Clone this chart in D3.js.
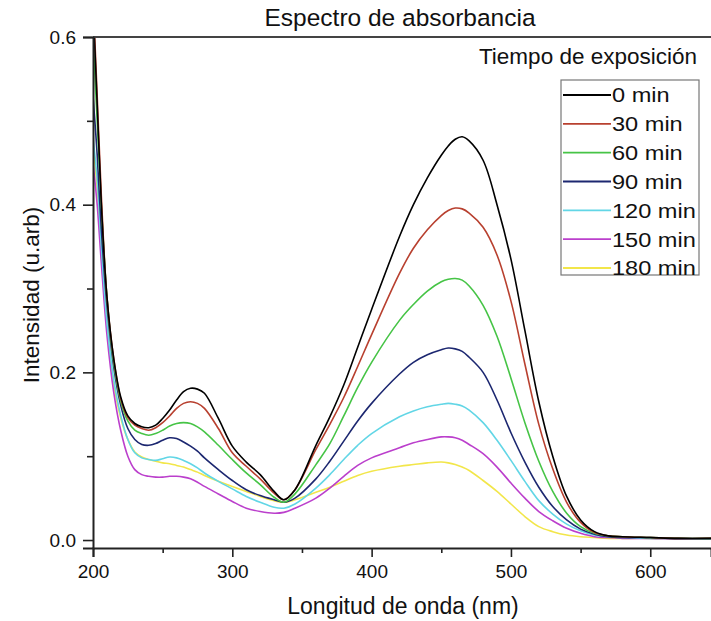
<html>
<head>
  <title>Espectro de absorbancia</title>
  <script src="https://d3js.org/d3.v7.min.js"></script>
  <style>
    body { margin: 0; background: #fff; }
    text { font-family: "Liberation Sans", Arial, sans-serif; fill: #111; }
  </style>
</head>
<body>
<svg id="chart" width="711" height="621"></svg>
<script>
  // wavelength grid (nm)
  const wl = [200,203,206,210,215,220,225,230,235,240,245,250,255,260,265,270,275,280,290,300,310,320,330,337,345,360,370,380,390,400,420,430,440,450,455,460,465,470,480,490,500,510,520,530,540,550,560,570,580,600,620,645]

  const min0 = [0.64,0.52,0.40,0.29,0.215,0.17,0.148,0.139,0.135,0.134,0.137,0.145,0.155,0.167,0.177,0.181,0.180,0.175,0.145,0.112,0.093,0.078,0.058,0.048,0.060,0.113,0.147,0.185,0.230,0.275,0.362,0.400,0.432,0.459,0.470,0.478,0.481,0.476,0.453,0.400,0.335,0.250,0.165,0.100,0.052,0.024,0.010,0.005,0.004,0.003,0.002,0.002]
  const min30 = [0.65,0.53,0.41,0.29,0.215,0.168,0.146,0.137,0.133,0.131,0.134,0.140,0.148,0.157,0.163,0.165,0.163,0.157,0.133,0.104,0.088,0.073,0.056,0.048,0.060,0.108,0.138,0.170,0.207,0.245,0.318,0.348,0.370,0.387,0.393,0.396,0.395,0.390,0.373,0.340,0.285,0.210,0.138,0.085,0.045,0.021,0.009,0.005,0.004,0.003,0.002,0.002]
  const min60 = [0.60,0.50,0.40,0.29,0.21,0.165,0.142,0.131,0.127,0.125,0.127,0.131,0.136,0.139,0.140,0.139,0.135,0.129,0.113,0.096,0.080,0.066,0.051,0.045,0.055,0.090,0.115,0.148,0.182,0.212,0.262,0.281,0.297,0.308,0.311,0.312,0.310,0.303,0.280,0.243,0.193,0.140,0.094,0.058,0.032,0.016,0.008,0.005,0.004,0.003,0.002,0.002]
  const min90 = [0.53,0.46,0.37,0.28,0.205,0.160,0.133,0.120,0.114,0.113,0.115,0.119,0.122,0.121,0.117,0.112,0.106,0.098,0.084,0.071,0.060,0.053,0.048,0.045,0.050,0.073,0.094,0.118,0.142,0.163,0.198,0.212,0.221,0.227,0.229,0.228,0.225,0.218,0.200,0.167,0.128,0.093,0.063,0.040,0.024,0.013,0.007,0.004,0.003,0.003,0.002,0.002]
  const min120 = [0.48,0.43,0.35,0.26,0.19,0.148,0.120,0.104,0.098,0.096,0.095,0.097,0.099,0.098,0.095,0.091,0.086,0.080,0.070,0.061,0.052,0.045,0.039,0.038,0.043,0.062,0.078,0.096,0.113,0.127,0.147,0.154,0.159,0.162,0.163,0.162,0.160,0.155,0.140,0.119,0.095,0.070,0.047,0.031,0.019,0.011,0.006,0.004,0.003,0.002,0.002,0.001]
  const min150 = [0.45,0.40,0.33,0.245,0.175,0.130,0.100,0.084,0.078,0.076,0.075,0.075,0.076,0.076,0.075,0.073,0.069,0.064,0.055,0.046,0.038,0.034,0.032,0.033,0.038,0.050,0.062,0.076,0.089,0.098,0.110,0.116,0.120,0.123,0.123,0.122,0.119,0.114,0.103,0.087,0.068,0.050,0.034,0.023,0.014,0.008,0.004,0.003,0.002,0.002,0.001,0.001]
  const min180 = [0.47,0.42,0.34,0.255,0.185,0.145,0.120,0.105,0.099,0.096,0.094,0.092,0.091,0.089,0.087,0.084,0.081,0.077,0.070,0.064,0.058,0.052,0.047,0.045,0.048,0.057,0.063,0.070,0.077,0.082,0.088,0.090,0.092,0.093,0.092,0.090,0.087,0.083,0.071,0.058,0.043,0.028,0.016,0.010,0.006,0.004,0.003,0.002,0.002,0.002,0.001,0.001]

  const labels = ["0 min","30 min","60 min","90 min","120 min","150 min","180 min"]
  const series = [min0, min30, min60, min90, min120, min150, min180]
  const colors = ["#000000","#b8402f","#46c446","#1c2770","#62d6e6","#bb3fcc","#f2e64a"]

  const xTicks = [200,300,400,500,600]
  const xMinor = [250,350,450,550]
  const yTicks = [0,0.2,0.4,0.6]
  const yMinor = [0.1,0.3,0.5]

  const mLeft = 93, mRight = 711, mTop = 37, mBottom = 548

  const x = d3.scaleLinear().domain([200, 643.6]).range([mLeft, mRight])
  const y = d3.scaleLinear().domain([-0.0095, 0.6]).range([mBottom, mTop])

  const svg = d3.select("#chart")

  svg.append("defs").append("clipPath").attr("id", "clip")
    .append("rect")
    .attr("x", mLeft).attr("y", mTop)
    .attr("width", mRight - mLeft).attr("height", mBottom - mTop)

  const line = d3.line()
    .x(d => x(d[0]))
    .y(d => y(d[1]))
    .curve(d3.curveCatmullRom)

  const plot = svg.append("g").attr("clip-path", "url(#clip)")
  // draw last series first so black ends on top
  for (let i = series.length - 1; i >= 0; i--) {
    plot.append("path")
      .datum(wl.map((w, j) => [w, series[i][j]]))
      .attr("fill", "none")
      .attr("stroke", colors[i])
      .attr("stroke-width", 1.6)
      .attr("d", line)
  }

  // top frame line
  svg.append("line")
    .attr("x1", mLeft).attr("x2", mRight)
    .attr("y1", mTop).attr("y2", mTop)
    .attr("stroke", "#444").attr("stroke-width", 2)

  // axes
  const xAxis = svg.append("g")
    .attr("transform", "translate(0," + mBottom + ")")
    .call(d3.axisBottom(x).tickValues(xTicks).tickSize(9).tickPadding(8).tickFormat(d3.format("d")))
  svg.append("g")
    .attr("transform", "translate(0," + mBottom + ")")
    .call(d3.axisBottom(x).tickValues(xMinor).tickSize(5).tickFormat(""))
    .select(".domain").remove()

  const yAxis = svg.append("g")
    .attr("transform", "translate(" + mLeft + ",0)")
    .call(d3.axisLeft(y).tickValues(yTicks).tickSize(10).tickPadding(7).tickFormat(d3.format(".1f")))
  svg.append("g")
    .attr("transform", "translate(" + mLeft + ",0)")
    .call(d3.axisLeft(y).tickValues(yMinor).tickSize(6).tickFormat(""))
    .select(".domain").remove()

  svg.selectAll(".domain").attr("stroke", "#222").attr("stroke-width", 2)
  svg.selectAll(".tick line").attr("stroke", "#222").attr("stroke-width", 1.6)
  svg.selectAll(".tick text")
    .attr("font-size", 19)
    .attr("font-family", "Liberation Sans, Arial, sans-serif")
    .attr("fill", "#111")

  // titles
  svg.append("text")
    .attr("x", 400).attr("y", 26)
    .attr("text-anchor", "middle")
    .attr("font-size", 24.5)
    .text("Espectro de absorbancia")

  svg.append("text")
    .attr("x", 403).attr("y", 614)
    .attr("text-anchor", "middle")
    .attr("font-size", 23)
    .text("Longitud de onda (nm)")

  svg.append("text")
    .attr("transform", "translate(39,295) rotate(-90)")
    .attr("text-anchor", "middle")
    .attr("font-size", 22.5)
    .text("Intensidad (u.arb)")

  // legend
  svg.append("text")
    .attr("x", 697).attr("y", 64)
    .attr("text-anchor", "end")
    .attr("font-size", 22.5)
    .text("Tiempo de exposición")

  svg.append("rect")
    .attr("x", 561).attr("y", 80)
    .attr("width", 138).attr("height", 195)
    .attr("fill", "#fff")
    .attr("stroke", "#777").attr("stroke-width", 1.2)

  const rowY = d3.scaleLinear().domain([0, 6]).range([95, 268])
  const legend = svg.append("g")
  labels.forEach((lab, i) => {
    legend.append("line")
      .attr("x1", 563).attr("x2", 611)
      .attr("y1", rowY(i)).attr("y2", rowY(i))
      .attr("stroke", colors[i]).attr("stroke-width", 1.8)
    // labels in the source are a little wider than the font, stretch them
    legend.append("text")
      .attr("transform", "translate(612," + rowY(i) + ") scale(1.15,1)")
      .attr("dy", "0.36em")
      .attr("font-size", 20.5)
      .text(lab)
  })
</script>
</body>
</html>
